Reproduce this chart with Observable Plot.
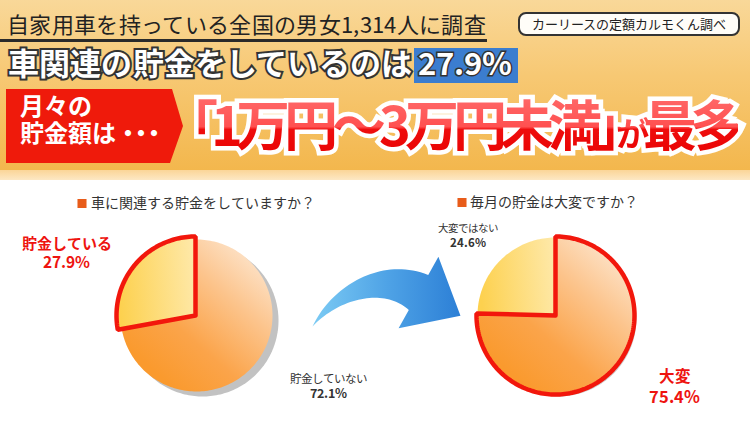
<!DOCTYPE html>
<html><head><meta charset="utf-8">
<script src="https://cdn.jsdelivr.net/npm/d3@7"></script>
<script src="https://cdn.jsdelivr.net/npm/@observablehq/plot@0.6"></script>
<style>
@font-face{font-family:"JPT";src:local("Noto Sans CJK JP"),local("Noto Sans CJK JP Regular"),local("NotoSansCJKjp-Regular");font-weight:400;ascent-override:88%;descent-override:12%;line-gap-override:0%;}
@font-face{font-family:"JPT";src:local("Noto Sans CJK JP Bold"),local("NotoSansCJKjp-Bold");font-weight:700;ascent-override:88%;descent-override:12%;line-gap-override:0%;}
html,body{margin:0;padding:0;background:#fff;}
body{width:750px;height:430px;overflow:hidden;font-family:"JPT","Noto Sans CJK JP","Noto Sans",sans-serif;}
#header{position:relative;width:750px;height:170px;background:linear-gradient(180deg,#f9d899 0%,#f7c873 45%,#f3b74d 100%);overflow:hidden;}
.abs{position:absolute;white-space:nowrap;}
#l1{left:7px;top:10px;font-size:22px;line-height:30px;color:#222;}
#ul{left:0;top:39px;width:487px;height:3px;background:#2a2a2a;}
#badge{left:518px;top:12px;width:218px;height:20px;border:2px solid #333;border-radius:8px;background:#fffdf8;font-size:13px;line-height:21px;text-align:center;color:#222;}
.l2{left:8px;top:47px;font-size:31px;line-height:34px;font-weight:700;}
.l2.back{color:#333;-webkit-text-stroke:4px #333;text-shadow:0 0 3px rgba(0,0,0,.35);}
.l2.front{color:#fff;}
#pctbox{left:414px;top:48px;width:104px;height:35px;background:#3b7dcf;}
.pct{left:418px;top:47px;font-size:31px;line-height:34px;font-weight:700;}
.pct.back{color:#333;-webkit-text-stroke:3px #333;}
.pct.front{color:#fff;}
#redbox{left:6px;top:89px;width:177px;height:74px;background:#ef1a0b;clip-path:polygon(0 0,166px 0,177px 50%,164px 100%,0 100%);}
.redtxt{left:20px;font-size:24px;line-height:26px;height:26px;font-weight:700;color:#fff;}
#red1{top:93px;}
#red2{top:120px;}
.redtxt .dots{letter-spacing:-0.45em;}
.big{left:190px;top:95px;font-size:54px;line-height:60px;font-weight:700;font-feature-settings:"palt";}
.big .ga{font-size:0.62em;}
.big.back{color:#fff;-webkit-text-stroke:9px #fff;text-shadow:0 0 4px rgba(120,60,0,.35);}
.big.front{background:linear-gradient(180deg,#ff6a6a 0%,#ff5050 46%,#ee0d0d 50%,#e80000 100%);-webkit-background-clip:text;background-clip:text;color:transparent;}
#band{width:750px;height:10px;background:linear-gradient(180deg,#fbd597,#fde8c4);}
#chart{width:750px;height:250px;}
</style>
</head><body>
<div id="header">
  <div class="abs" id="l1">自家用車を持っている全国の男女1,314人に調査</div>
  <div class="abs" id="ul"></div>
  <div class="abs" id="badge">カーリースの定額カルモくん調べ</div>
  <div class="abs l2 back">車関連の貯金をしているのは</div>
  <div class="abs l2 front">車関連の貯金をしているのは</div>
  <div class="abs" id="pctbox"></div>
  <div class="abs pct back" id="pctB"></div>
  <div class="abs pct front" id="pctF"></div>
  <div class="abs" id="redbox"></div>
  <div class="abs redtxt" id="red1">月々の</div>
  <div class="abs redtxt" id="red2">貯金額は<span class="dots">・・・</span></div>
  <div class="abs big back">「1万円～3万円未満」<span class="ga">が</span>最多</div>
  <div class="abs big front">「1万円～3万円未満」<span class="ga">が</span>最多</div>
</div>
<div id="band"></div>
<div id="chart"></div>
<script>
// ---- data ----
const q1Title = "車に関連する貯金をしていますか？";
const q1Labels = ["貯金している", "貯金していない"];
const q1Values = [27.9, 72.1];
const q2Title = "毎月の貯金は大変ですか？";
const q2Labels = ["大変ではない", "大変"];
const q2Values = [24.6, 75.4];

// header percentage from data
const pctText = q1Values[0].toFixed(1) + "%";
document.getElementById("pctB").textContent = pctText;
document.getElementById("pctF").textContent = pctText;

// fit helper: uniform letter-spacing to reach a target width
function fit(selector, target) {
  const els = document.querySelectorAll(selector);
  if (!els.length) return;
  const w = els[0].getBoundingClientRect().width;
  const n = [...els[0].textContent].length;
  const ls = (target - w) / n;
  els.forEach(e => e.style.letterSpacing = ls + "px");
}
fit("#l1", 479);
fit(".l2", 404);
fit(".big", 548);

// ---- layout ----
const pie1 = {cx: 196, cy: 135, r: 76};
const pie2 = {cx: 555, cy: 135, r: 78};

function arcPts(cx, cy, r, t0, t1, withCenter = true) {
  const n = Math.max(4, Math.ceil(Math.abs(t1 - t0) * 240));
  const pts = withCenter ? [{x: cx, y: cy}] : [];
  for (let i = 0; i <= n; i++) {
    const a = (t0 + (t1 - t0) * i / n) * 2 * Math.PI;
    pts.push({x: cx + r * Math.sin(a), y: cy - r * Math.cos(a)});
  }
  if (withCenter) pts.push({x: cx, y: cy});
  return pts;
}

const s1 = d3.sum(q1Values), s2 = d3.sum(q2Values);
const f1 = q1Values[0] / s1;   // small slice share
const f2 = q2Values[0] / s2;

// arrow geometry (decoration) from a cubic centre line
function arrowPts() {
  const P0 = [312, 146], C1 = [335, 112], C2 = [382, 92], P1 = [418, 112];
  const B = t => {
    const u = 1 - t;
    return [u*u*u*P0[0] + 3*u*u*t*C1[0] + 3*u*t*t*C2[0] + t*t*t*P1[0],
            u*u*u*P0[1] + 3*u*u*t*C1[1] + 3*u*t*t*C2[1] + t*t*t*P1[1]];
  };
  const D = t => {
    const u = 1 - t;
    const dx = 3*u*u*(C1[0]-P0[0]) + 6*u*t*(C2[0]-C1[0]) + 3*t*t*(P1[0]-C2[0]);
    const dy = 3*u*u*(C1[1]-P0[1]) + 6*u*t*(C2[1]-C1[1]) + 3*t*t*(P1[1]-C2[1]);
    const l = Math.hypot(dx, dy);
    return [dx / l, dy / l];
  };
  const N = 40, up = [], lo = [];
  for (let i = 0; i <= N; i++) {
    const t = i / N, p = B(t), d = D(t), hw = 20 * t;
    const nx = d[1], ny = -d[0];
    up.push({x: p[0] + nx * hw, y: p[1] + ny * hw});
    lo.push({x: p[0] - nx * hw, y: p[1] - ny * hw});
  }
  const d = D(1), nx = d[1], ny = -d[0];
  const head = [
    {x: P1[0] + nx * 41, y: P1[1] + ny * 41},
    {x: P1[0] + d[0] * 48, y: P1[1] + d[1] * 48},
    {x: P1[0] - nx * 41, y: P1[1] - ny * 41}
  ];
  return [...up, ...head, ...lo.reverse()];
}

const font = "JPT, 'Noto Sans CJK JP', 'Noto Sans', sans-serif";
const red = "#ee1410";
const dark = "#333";

const plot = Plot.plot({
  width: 750, height: 250, margin: 0,
  x: {type: "identity", axis: null},
  y: {type: "identity", axis: null},
  style: {fontFamily: font, background: "transparent", overflow: "visible"},
  marks: [
    // legend titles
    Plot.dot([q1Title], {x: 81.5, y: 23, symbol: "square", r: 5.1, fill: "#e85c1a", stroke: null}),
    Plot.text([q1Title], {x: 90, y: 23, text: d => d, textAnchor: "start", fontSize: 14, fill: "#333", letterSpacing: "1.3px"}),
    Plot.dot([q2Title], {x: 461.5, y: 22, symbol: "square", r: 5.1, fill: "#e85c1a", stroke: null}),
    Plot.text([q2Title], {x: 469, y: 22, text: d => d, textAnchor: "start", fontSize: 14, fill: "#333", letterSpacing: "1.1px"}),

    // pie 1
    Plot.line(arcPts(pie1.cx + 6, pie1.cy + 5, pie1.r, 0, 1, false), {x: "x", y: "y", fill: "#c2c2c2", stroke: null}),
    Plot.line(arcPts(pie1.cx, pie1.cy, pie1.r, 0, 1 - f1), {x: "x", y: "y", fill: "url(#gBig)", stroke: null}),
    Plot.line(arcPts(pie1.cx - 1, pie1.cy, pie1.r + 3, -f1, 0), {x: "x", y: "y", fill: "url(#gSmall)", stroke: "#f2170c", strokeWidth: 4.5, strokeLinejoin: "miter"}),

    // arrow
    Plot.line(arrowPts(), {x: "x", y: "y", fill: "url(#gArrow)", stroke: null}),

    // pie 2
    Plot.line(arcPts(pie2.cx + 3, pie2.cy + 3, pie2.r, 0.05, 0.7, false), {x: "x", y: "y", fill: "#cfcfcf", stroke: null}),
    Plot.line(arcPts(pie2.cx, pie2.cy, pie2.r, -f2, 0), {x: "x", y: "y", fill: "url(#gSmall)", stroke: null}),
    Plot.line(arcPts(pie2.cx, pie2.cy, pie2.r + 1, 0, 1 - f2), {x: "x", y: "y", fill: "url(#gBig)", stroke: "#f2170c", strokeWidth: 4.5, strokeLinejoin: "miter"}),

    // labels pie 1
    Plot.text([q1Labels[0]], {x: 66, y: 64, text: d => d, fontSize: 15, fontWeight: "bold", fill: red}),
    Plot.text([q1Values[0]], {x: 66, y: 83, text: d => d.toFixed(1) + "%", fontSize: 15.5, fontWeight: "bold", fill: red}),
    Plot.text([q1Labels[1]], {x: 328, y: 198.5, text: d => d, fontSize: 11.5, fill: dark}),
    Plot.text([q1Values[1]], {x: 328, y: 213.5, text: d => d.toFixed(1) + "%", fontSize: 12.5, fontWeight: "bold", fill: dark}),
    // labels pie 2
    Plot.text([q2Labels[0]], {x: 467, y: 48.5, text: d => d, fontSize: 10.5, fill: dark}),
    Plot.text([q2Values[0]], {x: 467, y: 62.5, text: d => d.toFixed(1) + "%", fontSize: 11.5, fontWeight: "bold", fill: dark}),
    Plot.text([q2Labels[1]], {x: 674, y: 197, text: d => d, fontSize: 15.5, fontWeight: "bold", fill: red}),
    Plot.text([q2Values[1]], {x: 674, y: 217, text: d => d.toFixed(1) + "%", fontSize: 16.5, fontWeight: "bold", fill: red})
  ]
});

// gradients
const ns = "http://www.w3.org/2000/svg";
const defs = document.createElementNS(ns, "defs");
defs.innerHTML = `
  <linearGradient id="gBig" x1="0.9" y1="0.05" x2="0.2" y2="0.85">
    <stop offset="0" stop-color="#fde8d3"/>
    <stop offset="0.35" stop-color="#fcc48c"/>
    <stop offset="0.7" stop-color="#fba44a"/>
    <stop offset="1" stop-color="#fa9a2e"/>
  </linearGradient>
  <linearGradient id="gSmall" x1="0" y1="0.3" x2="1" y2="0.2">
    <stop offset="0" stop-color="#fdd14f"/>
    <stop offset="1" stop-color="#fee9aa"/>
  </linearGradient>
  <linearGradient id="gArrow" x1="0" y1="0" x2="1" y2="0">
    <stop offset="0" stop-color="#7ccbf4"/>
    <stop offset="0.5" stop-color="#4fa3e6"/>
    <stop offset="1" stop-color="#2c7fd6"/>
  </linearGradient>`;
plot.insertBefore(defs, plot.firstChild);
document.getElementById("chart").appendChild(plot);
</script>
</body></html>
